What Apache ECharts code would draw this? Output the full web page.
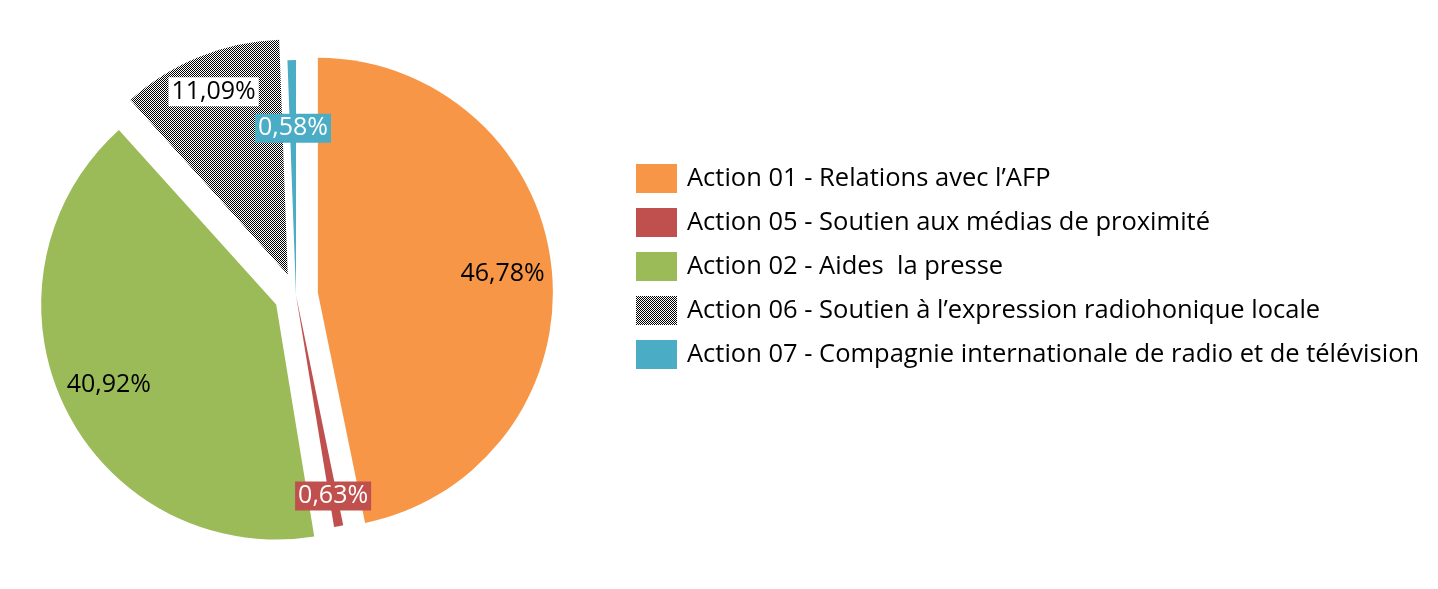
<!DOCTYPE html>
<html>
<head>
<meta charset="utf-8">
<script src="https://cdn.jsdelivr.net/npm/echarts@6/dist/echarts.min.js"></script>
<style>
html,body{margin:0;padding:0;background:#fff;}
#c{width:1438px;height:589px;}
</style>
</head>
<body>
<div id="c"></div>
<script>
// ---- data ----
const categories = [
  "Action 01 - Relations avec l\u2019AFP",
  "Action 05 - Soutien aux m\u00e9dias de proximit\u00e9",
  "Action 02 - Aides  la presse",
  "Action 06 - Soutien \u00e0 l\u2019expression radiohonique locale",
  "Action 07 - Compagnie internationale de radio et de t\u00e9l\u00e9vision"
];
const values = [46.78, 0.63, 40.92, 11.09, 0.58];
const exploded = [true, false, true, true, false];

// ---- styles ----
const CX = 296, CY = 295, R = 235, OFF = 22;
const FONT = "'Open Sans', sans-serif";
const total = values.reduce((a,b)=>a+b,0);
function midAngle(i){
  let s = 0; for (let k=0;k<i;k++) s += values[k];
  return (s + values[i]/2) / total * 2 * Math.PI; // clockwise from top
}

const hatch = document.createElement('canvas');
hatch.width = 2; hatch.height = 2;
(function(){
  const g = hatch.getContext('2d');
  g.fillStyle = '#ffffff'; g.fillRect(0,0,2,2);
  g.fillStyle = '#000000'; g.fillRect(0,0,1,1); g.fillRect(1,1,1,1);
})();
// align the checker pattern to whole pixels after the slice is pulled out
function hatchFor(i){
  const a = midAngle(i);
  const tx = exploded[i] ? OFF*Math.sin(a) : 0, ty = exploded[i] ? -OFF*Math.cos(a) : 0;
  return {image: hatch, repeat: 'repeat', x: Math.round(tx) - tx, y: Math.round(ty) - ty};
}
const colors = ['#F79646', '#C0504D', '#9BBB59', hatchFor(3), '#4BACC6'];
const labelStyles = [
  {color:'#000'},
  {color:'#fff', backgroundColor:'#C0504D', padding:[3,3,1,3]},
  {color:'#000'},
  {color:'#000', backgroundColor:'#fff', padding:[3,3,1,3]},
  {color:'#fff', backgroundColor:'#4BACC6', padding:[3,3,1,3]}
];
const labelDist = [0.79, 0.87, 0.79, 0.84, 0.71]; // fraction of radius

const chart = echarts.init(document.getElementById('c'), null, {renderer:'canvas'});
(function(){
  const cv = document.querySelector('#c canvas');
  if (cv) { const ctx = cv.getContext('2d'); ctx.imageSmoothingEnabled = false; }
})();
chart.setOption({
  animation: false,
  backgroundColor: '#fff',
  legend: {
    orient: 'vertical',
    left: 636, top: 164, padding: 0,
    itemWidth: 41, itemHeight: 29, itemGap: 15,
    icon: 'rect',
    selectedMode: false,
    textStyle: {fontFamily: FONT, fontSize: 25.5, color: '#000', padding:[0,0,0,5]},
    data: categories.map((n,i)=> i===3 ? {name:n, itemStyle:{color:{image:hatch, repeat:'repeat'}}} : n)
  },
  series: [{
    type: 'pie',
    center: [CX, CY],
    radius: [0, R],
    startAngle: 90,
    clockwise: true,
    selectedMode: 'multiple',
    selectedOffset: OFF,
    avoidLabelOverlap: false,
    emphasis: {disabled: true},
    labelLine: {show:false},
    label: {
      show: true, position: 'inside',
      fontFamily: FONT, fontSize: 25,
      formatter: p => p.value.toFixed(2).replace('.', ',') + '%'
    },
    labelLayout: function(p){
      const i = p.dataIndex;
      const a = midAngle(i);
      const dx = Math.sin(a), dy = -Math.cos(a);
      const d = labelDist[i]*R; // sector offset is applied by the library afterwards
      const tx = CX + d*dx, ty = CY + d*dy;
      const lr = p.labelRect;
      return {dx: tx - (lr.x + lr.width/2), dy: ty - (lr.y + lr.height/2)};
    },
    data: categories.map((n,i)=>({
      name: n, value: values[i], selected: exploded[i],
      itemStyle: {color: colors[i]},
      label: labelStyles[i]
    }))
  }]
});
</script>
</body>
</html>
